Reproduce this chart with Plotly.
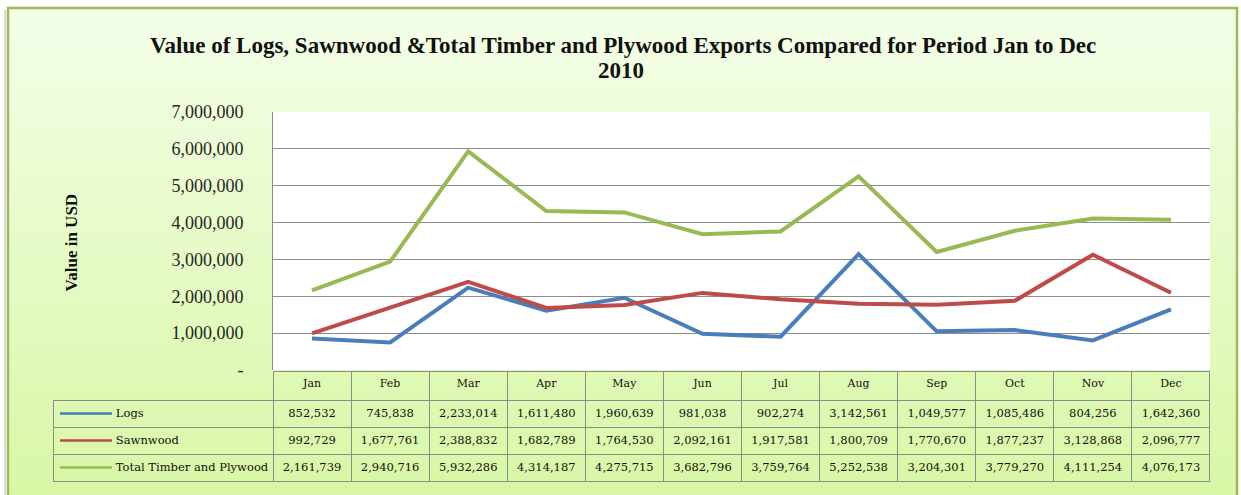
import plotly.graph_objects as go

W, H = 1241, 495

months = ["Jan", "Feb", "Mar", "Apr", "May", "Jun", "Jul", "Aug", "Sep", "Oct", "Nov", "Dec"]
logs = [852532, 745838, 2233014, 1611480, 1960639, 981038, 902274, 3142561, 1049577, 1085486, 804256, 1642360]
sawnwood = [992729, 1677761, 2388832, 1682789, 1764530, 2092161, 1917581, 1800709, 1770670, 1877237, 3128868, 2096777]
total = [2161739, 2940716, 5932286, 4314187, 4275715, 3682796, 3759764, 5252538, 3204301, 3779270, 4111254, 4076173]
series_names = ["Logs", "Sawnwood", "Total Timber and Plywood"]
series_colors = ["#4a7ebb", "#be4b48", "#98b954"]
y_tickvals = [0, 1000000, 2000000, 3000000, 4000000, 5000000, 6000000, 7000000]
y_ticktext = ["-", "1,000,000", "2,000,000", "3,000,000", "4,000,000", "5,000,000", "6,000,000", "7,000,000"]
title_lines = ["Value of Logs, Sawnwood &Total Timber and Plywood Exports Compared for Period Jan to Dec", "2010"]
y_title = "Value in USD"

def px_x(x):
    return x / W

def px_y(y):
    return 1 - y / H

plot_left, plot_right, plot_top, plot_bottom = 273, 1210, 112, 370
table_left, table_top, table_bottom = 53, 371, 482

fig = go.Figure()

all_series = [logs, sawnwood, total]
for name, vals, col in zip(series_names, all_series, series_colors):
    fig.add_trace(go.Scatter(x=months, y=vals, name=name, mode="lines",
                             line=dict(color=col, width=4), showlegend=False,
                             hoverinfo="x+y+name"))

nbsp = "\u00a0"
first_col = [nbsp * 15 + n.replace(" ", nbsp) for n in series_names]
cell_vals = [first_col] + [[f"{a:,}", f"{b:,}", f"{c:,}"] for a, b, c in zip(logs, sawnwood, total)]
header_vals = [""] + months
grid_col = "#8c8c8c"
fig.add_trace(go.Table(
    domain=dict(x=[px_x(table_left), px_x(plot_right)], y=[px_y(table_bottom + 10), px_y(table_top)]),
    columnwidth=[plot_left - table_left] + [(plot_right - plot_left) / 12] * 12,
    header=dict(values=header_vals, height=29,
                fill=dict(color="rgba(0,0,0,0)"),
                line=dict(color=["rgba(0,0,0,0)"] + [grid_col] * 12, width=1),
                align="center",
                font=dict(family="DejaVu Serif", size=11, color="#111111")),
    cells=dict(values=cell_vals, height=27,
               fill=dict(color="rgba(0,0,0,0)"),
               line=dict(color=grid_col, width=1),
               align=["left"] + ["center"] * 12,
               font=dict(family="DejaVu Serif", size=11.5, color="#111111")),
))

shapes = []
top_c = (244, 254, 233)
bot_c = (216, 247, 165)
n = 60
y0px, y1px = 8, H
for i in range(n):
    t = (i + 0.5) / n
    c = tuple(round(top_c[k] + (bot_c[k] - top_c[k]) * t) for k in range(3))
    ya = y0px + (y1px - y0px) * i / n
    yb = y0px + (y1px - y0px) * (i + 1) / n + 0.6
    shapes.append(dict(type="rect", xref="paper", yref="paper", layer="below",
                       x0=px_x(8), x1=px_x(1237), y0=px_y(yb), y1=px_y(ya),
                       line=dict(width=0), fillcolor="rgb(%d,%d,%d)" % c))
shapes.append(dict(type="line", xref="paper", yref="paper", layer="below",
                   x0=px_x(5), x1=px_x(5), y0=0, y1=px_y(10),
                   line=dict(color="#d9d9d9", width=2)))
shapes.append(dict(type="rect", xref="paper", yref="paper", layer="below",
                   x0=px_x(8), x1=px_x(1237), y0=px_y(H + 5), y1=px_y(8),
                   line=dict(color="#9bbb59", width=2.5), fillcolor="rgba(0,0,0,0)"))
shapes.append(dict(type="rect", xref="paper", yref="paper", layer="below",
                   x0=px_x(plot_left), x1=px_x(plot_right), y0=px_y(plot_bottom), y1=px_y(plot_top),
                   line=dict(width=0), fillcolor="white"))
row_centers = [table_top + 29 + 27 * i + 13.5 for i in range(3)]
for yc, col in zip(row_centers, series_colors):
    shapes.append(dict(type="line", xref="paper", yref="paper", layer="above",
                       x0=px_x(60), x1=px_x(112), y0=px_y(yc), y1=px_y(yc),
                       line=dict(color=col, width=2.5)))

annotations = [
    dict(text="<b>" + title_lines[0] + "</b>", xref="paper", yref="paper",
         x=px_x(623), y=px_y(45), showarrow=False, xanchor="center", yanchor="middle",
         font=dict(family="Liberation Serif", size=23, color="#111111")),
    dict(text="<b>" + title_lines[1] + "</b>", xref="paper", yref="paper",
         x=px_x(621), y=px_y(70), showarrow=False, xanchor="center", yanchor="middle",
         font=dict(family="Liberation Serif", size=23, color="#111111")),
    dict(text="<b>" + y_title + "</b>", textangle=-90, xref="paper", yref="paper",
         x=px_x(59), y=px_y(243), showarrow=False,
         font=dict(family="Liberation Serif", size=17, color="#111111")),
]

fig.update_layout(
    width=W, height=H,
    margin=dict(l=0, r=0, t=0, b=0, pad=0),
    paper_bgcolor="white",
    plot_bgcolor="rgba(0,0,0,0)",
    shapes=shapes,
    xaxis=dict(domain=[px_x(plot_left), px_x(plot_right)], type="category",
               range=[-0.5, 11.5], showticklabels=False, showgrid=False,
               zeroline=False, showline=False, ticks="", automargin=False),
    yaxis=dict(domain=[px_y(plot_bottom), px_y(plot_top)], range=[0, 7000000],
               tickvals=y_tickvals, ticktext=y_ticktext, ticks="", automargin=False,
               ticklabelstandoff=25, showgrid=True, gridcolor=grid_col, gridwidth=1,
               zeroline=False, showline=True, linecolor=grid_col, linewidth=1,
               tickfont=dict(family="Liberation Serif", size=18, color="#262626")),
    annotations=annotations,
)

fig.write_html("out.html", config={"displayModeBar": False},
               post_script="document.body.style.margin='0';document.body.style.overflow='hidden';")
